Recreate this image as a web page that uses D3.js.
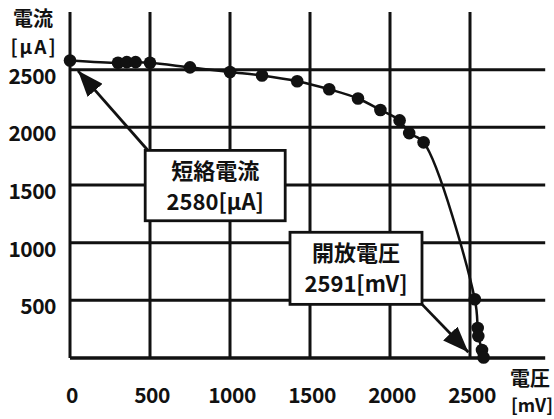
<!DOCTYPE html>
<html><head><meta charset="utf-8">
<script src="https://cdn.jsdelivr.net/npm/d3@7"></script>
<style>body{margin:0;background:#fff}svg{display:block}text{font-family:"Noto Sans CJK JP","Noto Sans",sans-serif;fill:#111}</style>
</head><body>
<script>
const voltage = [0, 300, 355, 410, 500, 750, 1000, 1200, 1420, 1620, 1800, 1940, 2060, 2120, 2210, 2530, 2548, 2552, 2575, 2585];
const current = [2580, 2560, 2565, 2565, 2560, 2520, 2480, 2450, 2400, 2330, 2250, 2150, 2060, 1950, 1870, 510, 260, 190, 70, 5];
const xTicks = [0, 500, 1000, 1500, 2000, 2500];
const yTicks = [500, 1000, 1500, 2000, 2500];
const yTitle = ["電流", "[μA]"];
const xTitle = ["電圧", "[mV]"];
const box1Lines = ["短絡電流", "2580[μA]"];
const box2Lines = ["開放電圧", "2591[mV]"];

const W = 554, H = 419;
const svg = d3.select("body").append("svg").attr("width", W).attr("height", H);
const x = d3.scaleLinear().domain([0, 3000]).range([70, 550]);
const y = d3.scaleLinear().domain([0, 3000]).range([358, 12]);
const ink = "#111";

// grid
svg.append("g").selectAll("line").data(xTicks).join("line")
  .attr("x1", d => x(d)).attr("x2", d => x(d)).attr("y1", y(0)).attr("y2", y(3000))
  .attr("stroke", ink).attr("stroke-width", 3);
svg.append("g").selectAll("line").data(yTicks).join("line")
  .attr("x1", x(0)).attr("x2", x(2970)).attr("y1", d => y(d)).attr("y2", d => y(d))
  .attr("stroke", ink).attr("stroke-width", 3);
svg.append("line").attr("x1", x(0)).attr("x2", x(2970)).attr("y1", y(0)).attr("y2", y(0))
  .attr("stroke", ink).attr("stroke-width", 3.5);

// tick labels
svg.append("g").selectAll("text").data(yTicks).join("text")
  .attr("x", 56).attr("y", d => y(d) + 14).attr("text-anchor", "end")
  .attr("font-size", 21).attr("font-weight", 600).attr("letter-spacing", -0.5).text(d => d);
svg.append("g").selectAll("text").data(xTicks).join("text")
  .attr("x", d => x(d) + 2).attr("y", 403).attr("text-anchor", "middle")
  .attr("font-size", 21).attr("font-weight", 600).attr("letter-spacing", -0.5).text(d => d);

// axis titles
svg.append("text").attr("x", 33).attr("y", 26).attr("text-anchor", "middle").attr("font-size", 20).attr("font-weight", 700).text(yTitle[0]);
svg.append("text").attr("x", 34).attr("y", 54).attr("text-anchor", "middle").attr("font-size", 19).attr("font-weight", 600).attr("letter-spacing", 2).text(yTitle[1]);
svg.append("text").attr("x", 530).attr("y", 386).attr("text-anchor", "middle").attr("font-size", 20).attr("font-weight", 700).text(xTitle[0]);
svg.append("text").attr("x", 532).attr("y", 412).attr("text-anchor", "middle").attr("font-size", 18).attr("font-weight", 600).text(xTitle[1]);

// curve
const pts = voltage.map((v, i) => [v, current[i]]);
svg.append("path").datum(pts)
  .attr("d", d3.line().x(d => x(d[0])).y(d => y(d[1])).curve(d3.curveCatmullRom.alpha(0.5)))
  .attr("fill", "none").attr("stroke", ink).attr("stroke-width", 2.5);
svg.append("g").selectAll("circle").data(pts).join("circle")
  .attr("cx", d => x(d[0])).attr("cy", d => y(d[1])).attr("r", 6.3).attr("fill", ink);

// arrows
const defs = svg.append("defs");
defs.append("marker").attr("id", "ah").attr("viewBox", "0 0 26 20").attr("refX", 26).attr("refY", 10)
  .attr("markerWidth", 26).attr("markerHeight", 20).attr("markerUnits", "userSpaceOnUse").attr("orient", "auto")
  .append("path").attr("d", "M0,0 L26,10 L0,20 Z").attr("fill", ink);

function arrow(x0, y0, x1, y1) {
  svg.append("line").attr("x1", x(x0)).attr("y1", y(y0)).attr("x2", x(x1)).attr("y2", y(y1))
    .attr("stroke", ink).attr("stroke-width", 2.8).attr("marker-end", "url(#ah)");
}
arrow(500, 1780, 50, 2490);
arrow(2190, 480, 2490, 50);

function box(x0, x1, y0, y1, lines) {
  svg.append("rect").attr("x", x(x0)).attr("y", y(y0)).attr("width", x(x1) - x(x0)).attr("height", y(y1) - y(y0))
    .attr("fill", "#fff").attr("stroke", ink).attr("stroke-width", 2.8);
  const cx = (x(x0) + x(x1)) / 2, top = y(y0);
  lines.forEach((t, i) => svg.append("text").attr("x", cx).attr("y", top + 29 + i * 31)
    .attr("text-anchor", "middle").attr("font-size", 22).attr("font-weight", 600).text(t));
}
box(470, 1345, 1800, 1190, box1Lines);
box(1375, 2200, 1090, 465, box2Lines);
</script>
</body></html>
